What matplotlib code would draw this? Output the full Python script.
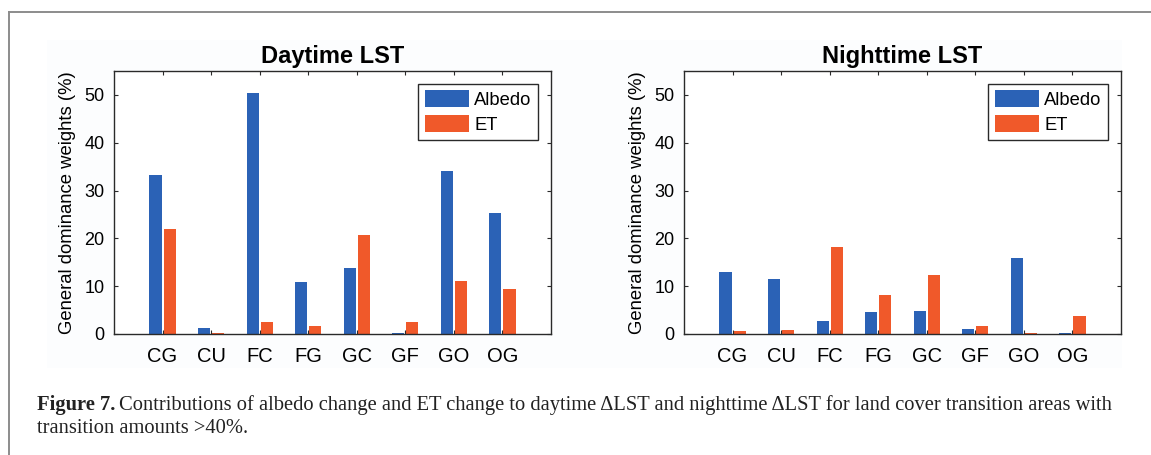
import numpy as np
import matplotlib.pyplot as plt
from matplotlib.lines import Line2D
from matplotlib.patches import Rectangle

plt.rcParams['font.family'] = ['Liberation Sans', 'DejaVu Sans']

# Data (general dominance weights, %)
categories = ['CG', 'CU', 'FC', 'FG', 'GC', 'GF', 'GO', 'OG']
day_albedo = [33.3, 1.3, 50.3, 10.8, 13.7, 0.3, 34.0, 25.2]
day_et = [22.0, 0.2, 2.5, 1.6, 20.7, 2.5, 11.1, 9.4]
night_albedo = [12.9, 11.5, 2.8, 4.5, 4.8, 1.1, 15.8, 0.2]
night_et = [0.6, 0.8, 18.2, 8.2, 12.4, 1.6, 0.3, 3.8]
yticks = [0, 10, 20, 30, 40, 50]

blue = '#2b62b6'
orange = '#f0592a'
axcol = '#2a2a2a'

fig = plt.figure(figsize=(11.51, 4.55), dpi=100)

# outer frame of the figure panel
fig.add_artist(Line2D([9 / 1151, 9 / 1151], [0, 1 - 12 / 455], color='#8c8c8c', lw=1.4))
fig.add_artist(Line2D([9 / 1151, 1], [1 - 12 / 455, 1 - 12 / 455], color='#8c8c8c', lw=1.4))
# very faint background behind the plots
fig.add_artist(Rectangle((47 / 1151, 1 - 368 / 455), 1075 / 1151, 328 / 455,
                         transform=fig.transFigure, facecolor='#fcfdfe', edgecolor='none', zorder=0))

panels = [
    (114, 'Daytime LST', day_albedo, day_et),
    (684, 'Nighttime LST', night_albedo, night_et),
]

x = np.arange(1, len(categories) + 1)
for left_px, title, alb, et in panels:
    ax = fig.add_axes([left_px / 1151, 1 - 334 / 455, 437 / 1151, 263 / 455])
    ax.set_facecolor('white')
    ax.bar(x - 0.145, alb, width=0.25, color=blue, label='Albedo')
    ax.bar(x + 0.145, et, width=0.25, color=orange, label='ET')
    ax.set_xlim(0, 9)
    ax.set_ylim(0, 55)
    ax.set_xticks(x)
    ax.set_xticklabels(categories, fontsize=14.5)
    ax.set_yticks(yticks)
    ax.set_yticklabels([str(v) for v in yticks], fontsize=13)
    ax.tick_params(direction='in', length=3, width=0.8, color=axcol,
                   top=True, right=True)
    ax.tick_params(axis='y', pad=7)
    ax.tick_params(axis='x', pad=9)
    for s in ax.spines.values():
        s.set_color(axcol)
        s.set_linewidth(1.0)
    ax.set_ylabel('General dominance weights (%)', fontsize=13.3, labelpad=6)
    ax.set_title(title, fontsize=17, fontweight='bold', pad=6)
    leg = ax.legend(loc='upper right', fontsize=13.2, fancybox=False,
                    edgecolor=axcol, framealpha=1, handlelength=2.45,
                    handleheight=1.0, handletextpad=0.27, borderpad=0.35,
                    labelspacing=0.35, borderaxespad=0.7)
    leg.get_frame().set_linewidth(1.0)

# caption
cap_y1 = 1 - 410 / 455
cap_y2 = 1 - 433 / 455
serif = ['Liberation Serif', 'DejaVu Serif']
t_bold = fig.text(37 / 1151, cap_y1, 'Figure 7.', family=serif, fontsize=14.8,
                  fontweight='bold', va='baseline', color='#222222')
fig.canvas.draw()
bb = t_bold.get_window_extent()
fig.text((bb.x1 + 4) / 1151, cap_y1,
         'Contributions of albedo change and ET change to daytime \u0394LST and nighttime \u0394LST '
         'for land cover transition areas with',
         family=serif, fontsize=14.8, va='baseline', color='#222222')
fig.text(37 / 1151, cap_y2, 'transition amounts >40%.', family=serif, fontsize=14.8,
         va='baseline', color='#222222')

fig.savefig('out.png', dpi=100)
